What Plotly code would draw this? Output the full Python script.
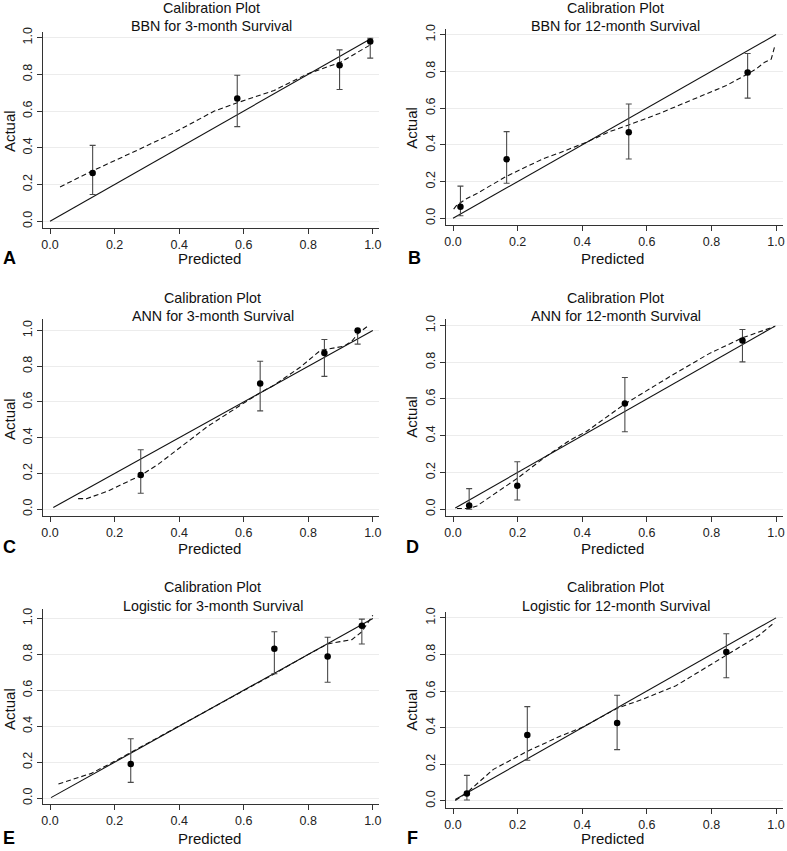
import plotly.graph_objects as go

# ---------------- data ----------------
panel_letters = ["A", "B", "C", "D", "E", "F"]
title_line1 = "Calibration Plot"
title_line2 = [
    "BBN for 3-month Survival",
    "BBN for 12-month Survival",
    "ANN for 3-month Survival",
    "ANN for 12-month Survival",
    "Logistic for 3-month Survival",
    "Logistic for 12-month Survival",
]
tick_vals = [0.0, 0.2, 0.4, 0.6, 0.8, 1.0]
tick_text = ["0.0", "0.2", "0.4", "0.6", "0.8", "1.0"]
x_title = "Predicted"
y_title = "Actual"

# grouped observed points (predicted, actual, CI low, CI high)
A_pred = [0.132, 0.580, 0.897, 0.992]
A_obs = [0.263, 0.668, 0.850, 0.978]
A_lo = [0.146, 0.515, 0.717, 0.888]
A_hi = [0.413, 0.795, 0.933, 0.996]

B_pred = [0.023, 0.166, 0.544, 0.912]
B_obs = [0.063, 0.321, 0.468, 0.793]
B_lo = [0.014, 0.191, 0.323, 0.654]
B_hi = [0.175, 0.472, 0.622, 0.897]

C_pred = [0.281, 0.651, 0.850, 0.953]
C_obs = [0.191, 0.704, 0.874, 1.000]
C_lo = [0.089, 0.550, 0.743, 0.924]
C_hi = [0.333, 0.828, 0.950, 1.000]

D_pred = [0.050, 0.199, 0.532, 0.896]
D_obs = [0.020, 0.128, 0.575, 0.919]
D_lo = [0.000, 0.050, 0.422, 0.802]
D_hi = [0.112, 0.258, 0.717, 0.978]

E_pred = [0.250, 0.695, 0.860, 0.966]
E_obs = [0.190, 0.831, 0.788, 0.959]
E_lo = [0.088, 0.692, 0.645, 0.858]
E_hi = [0.331, 0.926, 0.895, 0.996]

F_pred = [0.043, 0.230, 0.508, 0.846]
F_obs = [0.040, 0.360, 0.425, 0.814]
F_lo = [0.005, 0.222, 0.280, 0.673]
F_hi = [0.139, 0.515, 0.577, 0.913]

# reference (perfect calibration) line extents
A_diag = [0.0, 0.995]
B_diag = [0.0, 1.0]
C_diag = [0.010, 1.0]
D_diag = [0.007, 0.998]
E_diag = [0.003, 1.0]
F_diag = [0.007, 1.0]

# smoothed (lowess) calibration curves
A_smooth_x = [0.031, 0.132, 0.283, 0.385, 0.509, 0.580, 0.694, 0.797, 0.899, 0.990]
A_smooth_y = [0.187, 0.275, 0.397, 0.483, 0.600, 0.645, 0.712, 0.802, 0.865, 0.958]

B_smooth_x = [0.002, 0.012, 0.043, 0.074, 0.166, 0.279, 0.331, 0.413, 0.485, 0.544,
              0.639, 0.741, 0.844, 0.912, 0.940, 0.965, 0.985, 0.996]
B_smooth_y = [0.050, 0.072, 0.108, 0.135, 0.229, 0.324, 0.357, 0.414, 0.472, 0.508,
              0.571, 0.645, 0.721, 0.785, 0.815, 0.850, 0.866, 0.937]

C_smooth_x = [0.087, 0.113, 0.180, 0.281, 0.334, 0.406, 0.488, 0.591, 0.651, 0.694,
              0.776, 0.838, 0.868, 0.910, 0.935, 0.955, 0.987]
C_smooth_y = [0.059, 0.059, 0.102, 0.189, 0.250, 0.352, 0.463, 0.583, 0.652, 0.694,
              0.796, 0.889, 0.898, 0.912, 0.940, 0.985, 1.028]

D_smooth_x = [0.012, 0.050, 0.074, 0.199, 0.279, 0.361, 0.413, 0.532, 0.690, 0.793,
              0.896, 0.947, 0.996]
D_smooth_y = [0.004, 0.004, 0.018, 0.168, 0.276, 0.375, 0.423, 0.573, 0.742, 0.847,
              0.933, 0.964, 0.995]

E_smooth_x = [0.026, 0.077, 0.128, 0.200, 0.300, 0.400, 0.500, 0.600, 0.700, 0.800,
              0.860, 0.899, 0.935, 0.966, 1.000]
E_smooth_y = [0.079, 0.107, 0.138, 0.205, 0.305, 0.402, 0.500, 0.598, 0.697, 0.800,
              0.858, 0.871, 0.882, 0.926, 1.018]

F_smooth_x = [0.007, 0.043, 0.125, 0.230, 0.331, 0.402, 0.508, 0.587, 0.690, 0.846,
              0.947, 0.996]
F_smooth_y = [0.002, 0.045, 0.172, 0.271, 0.353, 0.403, 0.506, 0.555, 0.629, 0.796,
              0.904, 0.976]

panels_data = [
    (A_pred, A_obs, A_lo, A_hi, A_diag, A_smooth_x, A_smooth_y),
    (B_pred, B_obs, B_lo, B_hi, B_diag, B_smooth_x, B_smooth_y),
    (C_pred, C_obs, C_lo, C_hi, C_diag, C_smooth_x, C_smooth_y),
    (D_pred, D_obs, D_lo, D_hi, D_diag, D_smooth_x, D_smooth_y),
    (E_pred, E_obs, E_lo, E_hi, E_diag, E_smooth_x, E_smooth_y),
    (F_pred, F_obs, F_lo, F_hi, F_diag, F_smooth_x, F_smooth_y),
]

# ---------------- layout (pixel geometry) ----------------
W, H = 787, 851
DY = -3.5  # global vertical nudge (pixels)
FONT = "Liberation Sans, Arial, Helvetica, sans-serif"


def fx(p):
    return p / W


def fy(p):
    return 1 - (p + DY) / H


# per panel: x-axis pixel extent, x range, y pixel extent (bottom, top), y range
geom = [
    dict(xpix=(41.7, 379.3), xr=(-0.0203, 1.0203), ypix=(227.7, 30.7), yr=(-0.0346, 1.0303)),
    dict(xpix=(446.3, 784.7), xr=(-0.0216, 1.0206), ypix=(225.0, 27.3), yr=(-0.0362, 1.0324)),
    dict(xpix=(41.7, 379.3), xr=(-0.0203, 1.0203), ypix=(517.7, 320.0), yr=(-0.0356, 1.0628)),
    dict(xpix=(446.3, 784.7), xr=(-0.0216, 1.0206), ypix=(517.7, 320.0), yr=(-0.0346, 1.0340)),
    dict(xpix=(41.7, 379.3), xr=(-0.0203, 1.0203), ypix=(808.3, 611.7), yr=(-0.0331, 1.0530)),
    dict(xpix=(446.3, 784.7), xr=(-0.0216, 1.0206), ypix=(812.3, 615.0), yr=(-0.0396, 1.0310)),
]

# annotation pixel positions
title_pos = [(211, 7, 25), (617, 7, 25), (212, 298.3, 316.7), (617, 298.3, 316.7),
             (212, 589.3, 608.3), (617, 589.3, 608.3)]
xtitle_pos = [(209, 259), (614, 259), (209, 551), (614, 551), (209, 843), (614, 843)]
ytitle_pos = [(7.5, 130), (411.3, 127), (7.5, 420), (411.3, 418), (7.5, 712), (411.3, 713)]
letter_pos = [(8, 258.5), (414.5, 258.5), (8, 549), (413, 549), (7, 842), (413, 842)]

fig = go.Figure()
annotations = []
layout_axes = {}

for i, (pred, obs, lo, hi, diag, sx, sy) in enumerate(panels_data):
    n = i + 1
    xa = "x" if n == 1 else f"x{n}"
    ya = "y" if n == 1 else f"y{n}"
    xkey = "xaxis" if n == 1 else f"xaxis{n}"
    ykey = "yaxis" if n == 1 else f"yaxis{n}"
    g = geom[i]

    # diagonal reference
    fig.add_trace(go.Scatter(x=diag, y=diag, mode="lines", xaxis=xa, yaxis=ya,
                             line=dict(color="#111111", width=1.1),
                             showlegend=False, hoverinfo="skip"))
    # smooth curve
    fig.add_trace(go.Scatter(x=sx, y=sy, mode="lines", xaxis=xa, yaxis=ya,
                             line=dict(color="#111111", width=1.1, dash="5px,3px"),
                             showlegend=False, hoverinfo="skip"))
    # points with CIs
    plus = [h - o for h, o in zip(hi, obs)]
    minus = [o - l for o, l in zip(obs, lo)]
    fig.add_trace(go.Scatter(x=pred, y=obs, mode="markers", xaxis=xa, yaxis=ya,
                             marker=dict(color="#000000", size=6.5),
                             error_y=dict(type="data", symmetric=False, array=plus,
                                          arrayminus=minus, color="#4a4a4a",
                                          thickness=1.1, width=3),
                             showlegend=False))

    axis_common = dict(
        showline=True, linecolor="#333333", linewidth=1,
        ticks="outside", ticklen=5, tickcolor="#333333", tickwidth=1,
        tickvals=tick_vals, ticktext=tick_text,
        tickfont=dict(family=FONT, size=12.5, color="#222222"),
        zeroline=False, mirror=False,
    )
    layout_axes[xkey] = dict(
        axis_common, domain=[fx(g["xpix"][0]), fx(g["xpix"][1])], range=list(g["xr"]),
        anchor=ya, showgrid=False,
    )
    layout_axes[ykey] = dict(
        axis_common, domain=[fy(g["ypix"][0]), fy(g["ypix"][1])], range=list(g["yr"]),
        anchor=xa, showgrid=True, gridcolor="#ececec", gridwidth=1, tickangle=-90,
    )

    tx, ty1, ty2 = title_pos[i]
    annotations.append(dict(text=title_line1, x=fx(tx), y=fy(ty1), xref="paper", yref="paper",
                            xanchor="center", yanchor="middle", showarrow=False,
                            font=dict(family=FONT, size=14.3, color="#111111")))
    annotations.append(dict(text=title_line2[i], x=fx(tx), y=fy(ty2), xref="paper", yref="paper",
                            xanchor="center", yanchor="middle", showarrow=False,
                            font=dict(family=FONT, size=14.3, color="#111111")))
    xx, xy = xtitle_pos[i]
    annotations.append(dict(text=x_title, x=fx(xx), y=fy(xy), xref="paper", yref="paper",
                            xanchor="center", yanchor="middle", showarrow=False,
                            font=dict(family=FONT, size=15, color="#111111")))
    yx, yy = ytitle_pos[i]
    annotations.append(dict(text=y_title, x=fx(yx), y=fy(yy), xref="paper", yref="paper",
                            xanchor="center", yanchor="middle", showarrow=False, textangle=-90,
                            font=dict(family=FONT, size=15, color="#111111")))
    lx, ly = letter_pos[i]
    annotations.append(dict(text=f"<b>{panel_letters[i]}</b>", x=fx(lx), y=fy(ly),
                            xref="paper", yref="paper", xanchor="center", yanchor="middle",
                            showarrow=False,
                            font=dict(family=FONT, size=18, color="#000000")))

fig.update_layout(
    width=W, height=H,
    margin=dict(l=0, r=0, t=0, b=0),
    paper_bgcolor="white", plot_bgcolor="white",
    showlegend=False,
    annotations=annotations,
    **layout_axes,
)

fig.write_html(
    "out.html",
    config={"displayModeBar": False},
    post_script=(
        "document.documentElement.style.margin='0px';"
        "document.body.style.margin='0px';document.body.style.padding='0px';"
        "document.body.style.overflow='hidden';"
        "var gd=document.getElementById('{plot_id}');"
        "gd.style.position='fixed';gd.style.top='0px';gd.style.left='0px';"
    ),
)
